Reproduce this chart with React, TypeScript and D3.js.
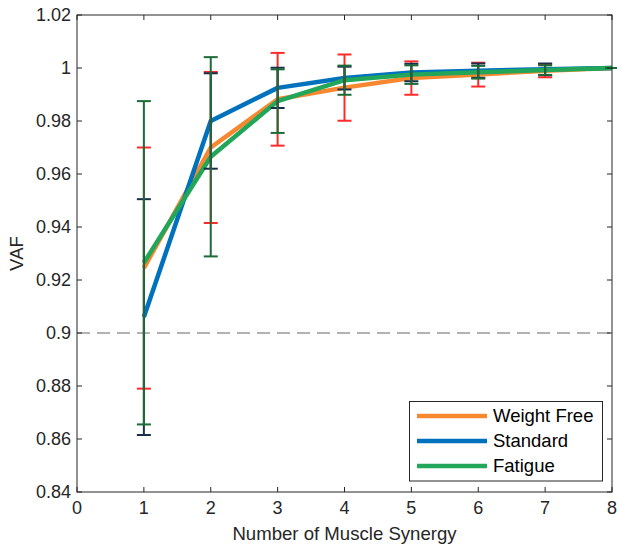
import React, { useRef, useEffect } from 'react';
import * as d3 from 'd3';

const synergies = [1, 2, 3, 4, 5, 6, 7, 8];
const weightFree = [0.9245, 0.97, 0.9882, 0.9926, 0.9962, 0.9975, 0.999, 1.0];
const standard = [0.906, 0.98, 0.9925, 0.9962, 0.9983, 0.999, 0.9995, 1.0];
const fatigue = [0.9265, 0.9665, 0.9875, 0.9954, 0.9975, 0.9984, 0.9992, 1.0];
const weightFreeErr = [0.0455, 0.0285, 0.0175, 0.0125, 0.0063, 0.0045, 0.0025, 0];
const standardErr = [0.0445, 0.018, 0.0076, 0.0043, 0.0033, 0.0027, 0.0022, 0];
const fatigueErr = [0.061, 0.0376, 0.012, 0.0055, 0.0035, 0.0024, 0.0018, 0];
const xTicks = [0, 1, 2, 3, 4, 5, 6, 7, 8];
const yTicks = [0.84, 0.86, 0.88, 0.9, 0.92, 0.94, 0.96, 0.98, 1.0, 1.02];

const series = [
  { name: 'Weight Free', values: weightFree, err: weightFreeErr, color: '#f7882f', errColor: '#ff2a2a' },
  { name: 'Standard', values: standard, err: standardErr, color: '#0072bd', errColor: '#1b2f4d' },
  { name: 'Fatigue', values: fatigue, err: fatigueErr, color: '#21a65a', errColor: '#1c6b38' },
];

const App = () => {
  const svgRef = useRef<SVGSVGElement>(null);

  useEffect(() => {
    const width = 617;
    const height = 547;
    const left = 77;
    const right = 612;
    const top = 15;
    const bottom = 492;
    const ink = '#262626';
    const font = 'Liberation Sans, Arial, sans-serif';

    const svg = d3.select(svgRef.current);
    svg.selectAll('*').remove();
    svg.attr('width', width).attr('height', height);

    const x = d3.scaleLinear().domain([0, 8]).range([left, right]);
    const y = d3.scaleLinear().domain([0.84, 1.02]).range([bottom, top]);

    // threshold line
    svg
      .append('line')
      .attr('x1', left)
      .attr('x2', right)
      .attr('y1', y(0.9))
      .attr('y2', y(0.9))
      .attr('stroke', '#666')
      .attr('stroke-width', 1.2)
      .attr('stroke-dasharray', '13,7');

    const line = d3
      .line<number>()
      .x((d, i) => x(synergies[i]))
      .y(d => y(d));

    series.forEach(s => {
      svg
        .append('path')
        .attr('d', line(s.values))
        .attr('fill', 'none')
        .attr('stroke', s.color)
        .attr('stroke-width', 4.5)
        .attr('stroke-linejoin', 'round');
    });

    series.forEach(s => {
      const g = svg.append('g').attr('stroke', s.errColor).attr('stroke-width', 2);
      synergies.forEach((k, i) => {
        const cx = x(k);
        const lo = y(s.values[i] - s.err[i]);
        const hi = y(s.values[i] + s.err[i]);
        g.append('line').attr('x1', cx).attr('x2', cx).attr('y1', lo).attr('y2', hi);
        g.append('line').attr('x1', cx - 7).attr('x2', cx + 7).attr('y1', lo).attr('y2', lo);
        g.append('line').attr('x1', cx - 7).attr('x2', cx + 7).attr('y1', hi).attr('y2', hi);
      });
    });

    // box and ticks
    const axes = svg.append('g').attr('stroke', ink).attr('stroke-width', 1);
    axes
      .append('rect')
      .attr('x', left)
      .attr('y', top)
      .attr('width', right - left)
      .attr('height', bottom - top)
      .attr('fill', 'none');
    xTicks.forEach(t => {
      axes.append('line').attr('x1', x(t)).attr('x2', x(t)).attr('y1', bottom).attr('y2', bottom - 5);
      axes.append('line').attr('x1', x(t)).attr('x2', x(t)).attr('y1', top).attr('y2', top + 5);
    });
    yTicks.forEach(t => {
      axes.append('line').attr('x1', left).attr('x2', left + 5).attr('y1', y(t)).attr('y2', y(t));
      axes.append('line').attr('x1', right).attr('x2', right - 5).attr('y1', y(t)).attr('y2', y(t));
    });

    svg
      .append('g')
      .selectAll('text')
      .data(xTicks)
      .join('text')
      .attr('x', d => x(d))
      .attr('y', bottom + 22)
      .attr('text-anchor', 'middle')
      .attr('font-family', font)
      .attr('font-size', 18)
      .attr('fill', ink)
      .text(d => String(d));

    svg
      .append('g')
      .selectAll('text')
      .data(yTicks)
      .join('text')
      .attr('x', left - 6)
      .attr('y', d => y(d) + 6)
      .attr('text-anchor', 'end')
      .attr('font-family', font)
      .attr('font-size', 18)
      .attr('fill', ink)
      .text(d => String(+d.toFixed(2)));

    svg
      .append('text')
      .attr('x', (left + right) / 2)
      .attr('y', 540)
      .attr('text-anchor', 'middle')
      .attr('font-family', font)
      .attr('font-size', 18.6)
      .attr('fill', ink)
      .text('Number of Muscle Synergy');

    svg
      .append('text')
      .attr('transform', `translate(23, ${(top + bottom) / 2}) rotate(-90)`)
      .attr('text-anchor', 'middle')
      .attr('font-family', font)
      .attr('font-size', 18.6)
      .attr('fill', ink)
      .text('VAF');

    // legend
    const legend = svg.append('g');
    legend
      .append('rect')
      .attr('x', 409.5)
      .attr('y', 401.5)
      .attr('width', 193)
      .attr('height', 79.5)
      .attr('fill', '#fff')
      .attr('stroke', ink)
      .attr('stroke-width', 1);
    series.forEach((s, i) => {
      const ly = 416 + i * 25;
      legend
        .append('line')
        .attr('x1', 417)
        .attr('x2', 487)
        .attr('y1', ly)
        .attr('y2', ly)
        .attr('stroke', s.color)
        .attr('stroke-width', 4.5);
      legend
        .append('text')
        .attr('x', 493)
        .attr('y', ly + 6)
        .attr('font-family', font)
        .attr('font-size', 18.5)
        .attr('fill', '#000')
        .text(s.name);
    });
  }, []);

  return <svg ref={svgRef} style={{ position: 'absolute', left: 0, top: 0 }}></svg>;
};

export default App;
